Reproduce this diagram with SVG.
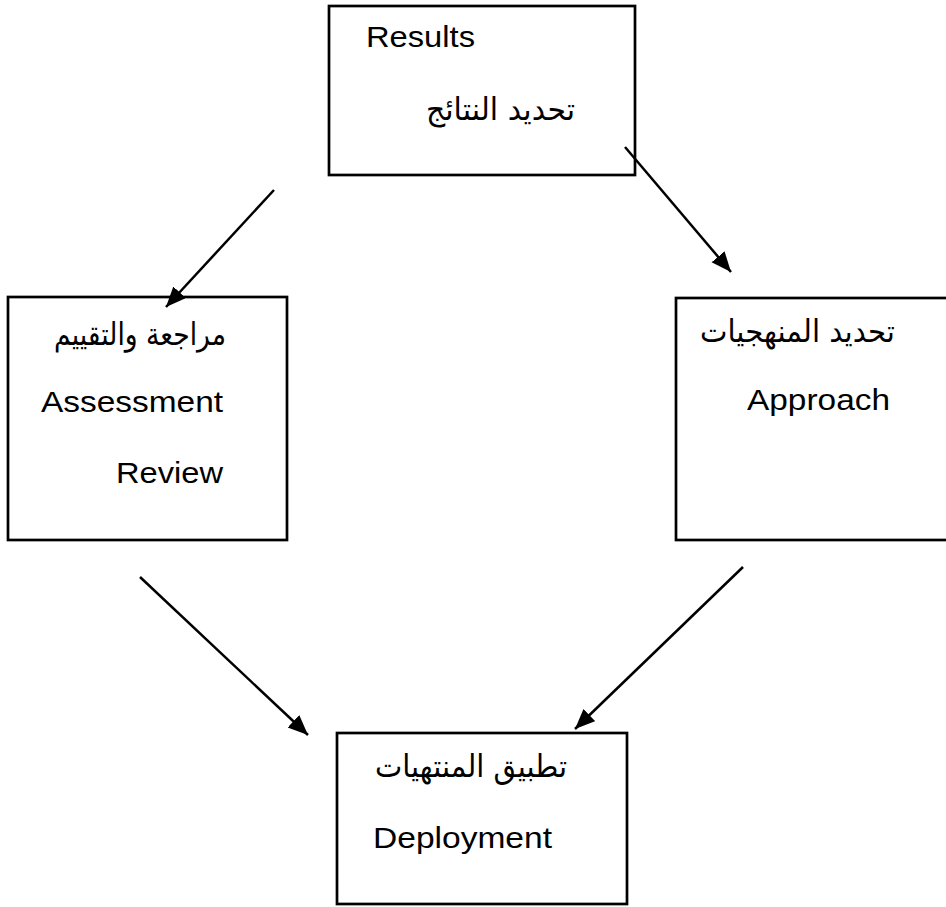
<svg xmlns="http://www.w3.org/2000/svg" width="946" height="907" viewBox="0 0 946 907">
<defs>
<marker id="ah" markerUnits="userSpaceOnUse" markerWidth="24" markerHeight="20" refX="20" refY="8.5" orient="auto">
<path d="M0,0 L20,8.5 L0,17 z" fill="#000"/>
</marker>
<style>
.box{fill:#fff;stroke:#000;stroke-width:2.7}
.en{font-family:"Liberation Sans",Arial,sans-serif;font-size:30px;fill:#000}
.ar{font-family:"DejaVu Sans","Noto Sans",sans-serif;font-size:31px;fill:#000}
.con{stroke:#000;stroke-width:2.5;fill:none;marker-end:url(#ah)}
</style>
</defs>
<rect width="946" height="907" fill="#fff"/>
<g id="results">
<rect class="box" x="329" y="6" width="306" height="169"/>
<text class="en" x="366" y="47" textLength="109" lengthAdjust="spacingAndGlyphs">Results</text>
<text class="ar" x="500.5" y="120" text-anchor="middle" textLength="149" lengthAdjust="spacingAndGlyphs">تحديد النتائج</text>
</g>
<g id="review">
<rect class="box" x="8" y="297" width="279" height="243"/>
<text class="ar" x="140" y="345" text-anchor="middle" textLength="172" lengthAdjust="spacingAndGlyphs">مراجعة والتقييم</text>
<text class="en" x="41" y="412" textLength="182" lengthAdjust="spacingAndGlyphs">Assessment</text>
<text class="en" x="116" y="483" textLength="107" lengthAdjust="spacingAndGlyphs">Review</text>
</g>
<g id="approach">
<rect class="box" x="676" y="298" width="275" height="242"/>
<text class="ar" x="797.5" y="342" text-anchor="middle" textLength="195" lengthAdjust="spacingAndGlyphs">تحديد المنهجيات</text>
<text class="en" x="747" y="410" textLength="143" lengthAdjust="spacingAndGlyphs">Approach</text>
</g>
<g id="deployment">
<rect class="box" x="337" y="733" width="290" height="171"/>
<text class="ar" x="471" y="777" text-anchor="middle" textLength="192" lengthAdjust="spacingAndGlyphs">تطبيق المنتهيات</text>
<text class="en" x="373" y="848" textLength="179" lengthAdjust="spacingAndGlyphs">Deployment</text>
</g>
<g id="connectors">
<line class="con" x1="274" y1="190" x2="166" y2="307"/>
<line class="con" x1="625" y1="147" x2="731" y2="272"/>
<line class="con" x1="140" y1="577" x2="308" y2="735"/>
<line class="con" x1="743" y1="567" x2="575" y2="729"/>
</g>
</svg>
